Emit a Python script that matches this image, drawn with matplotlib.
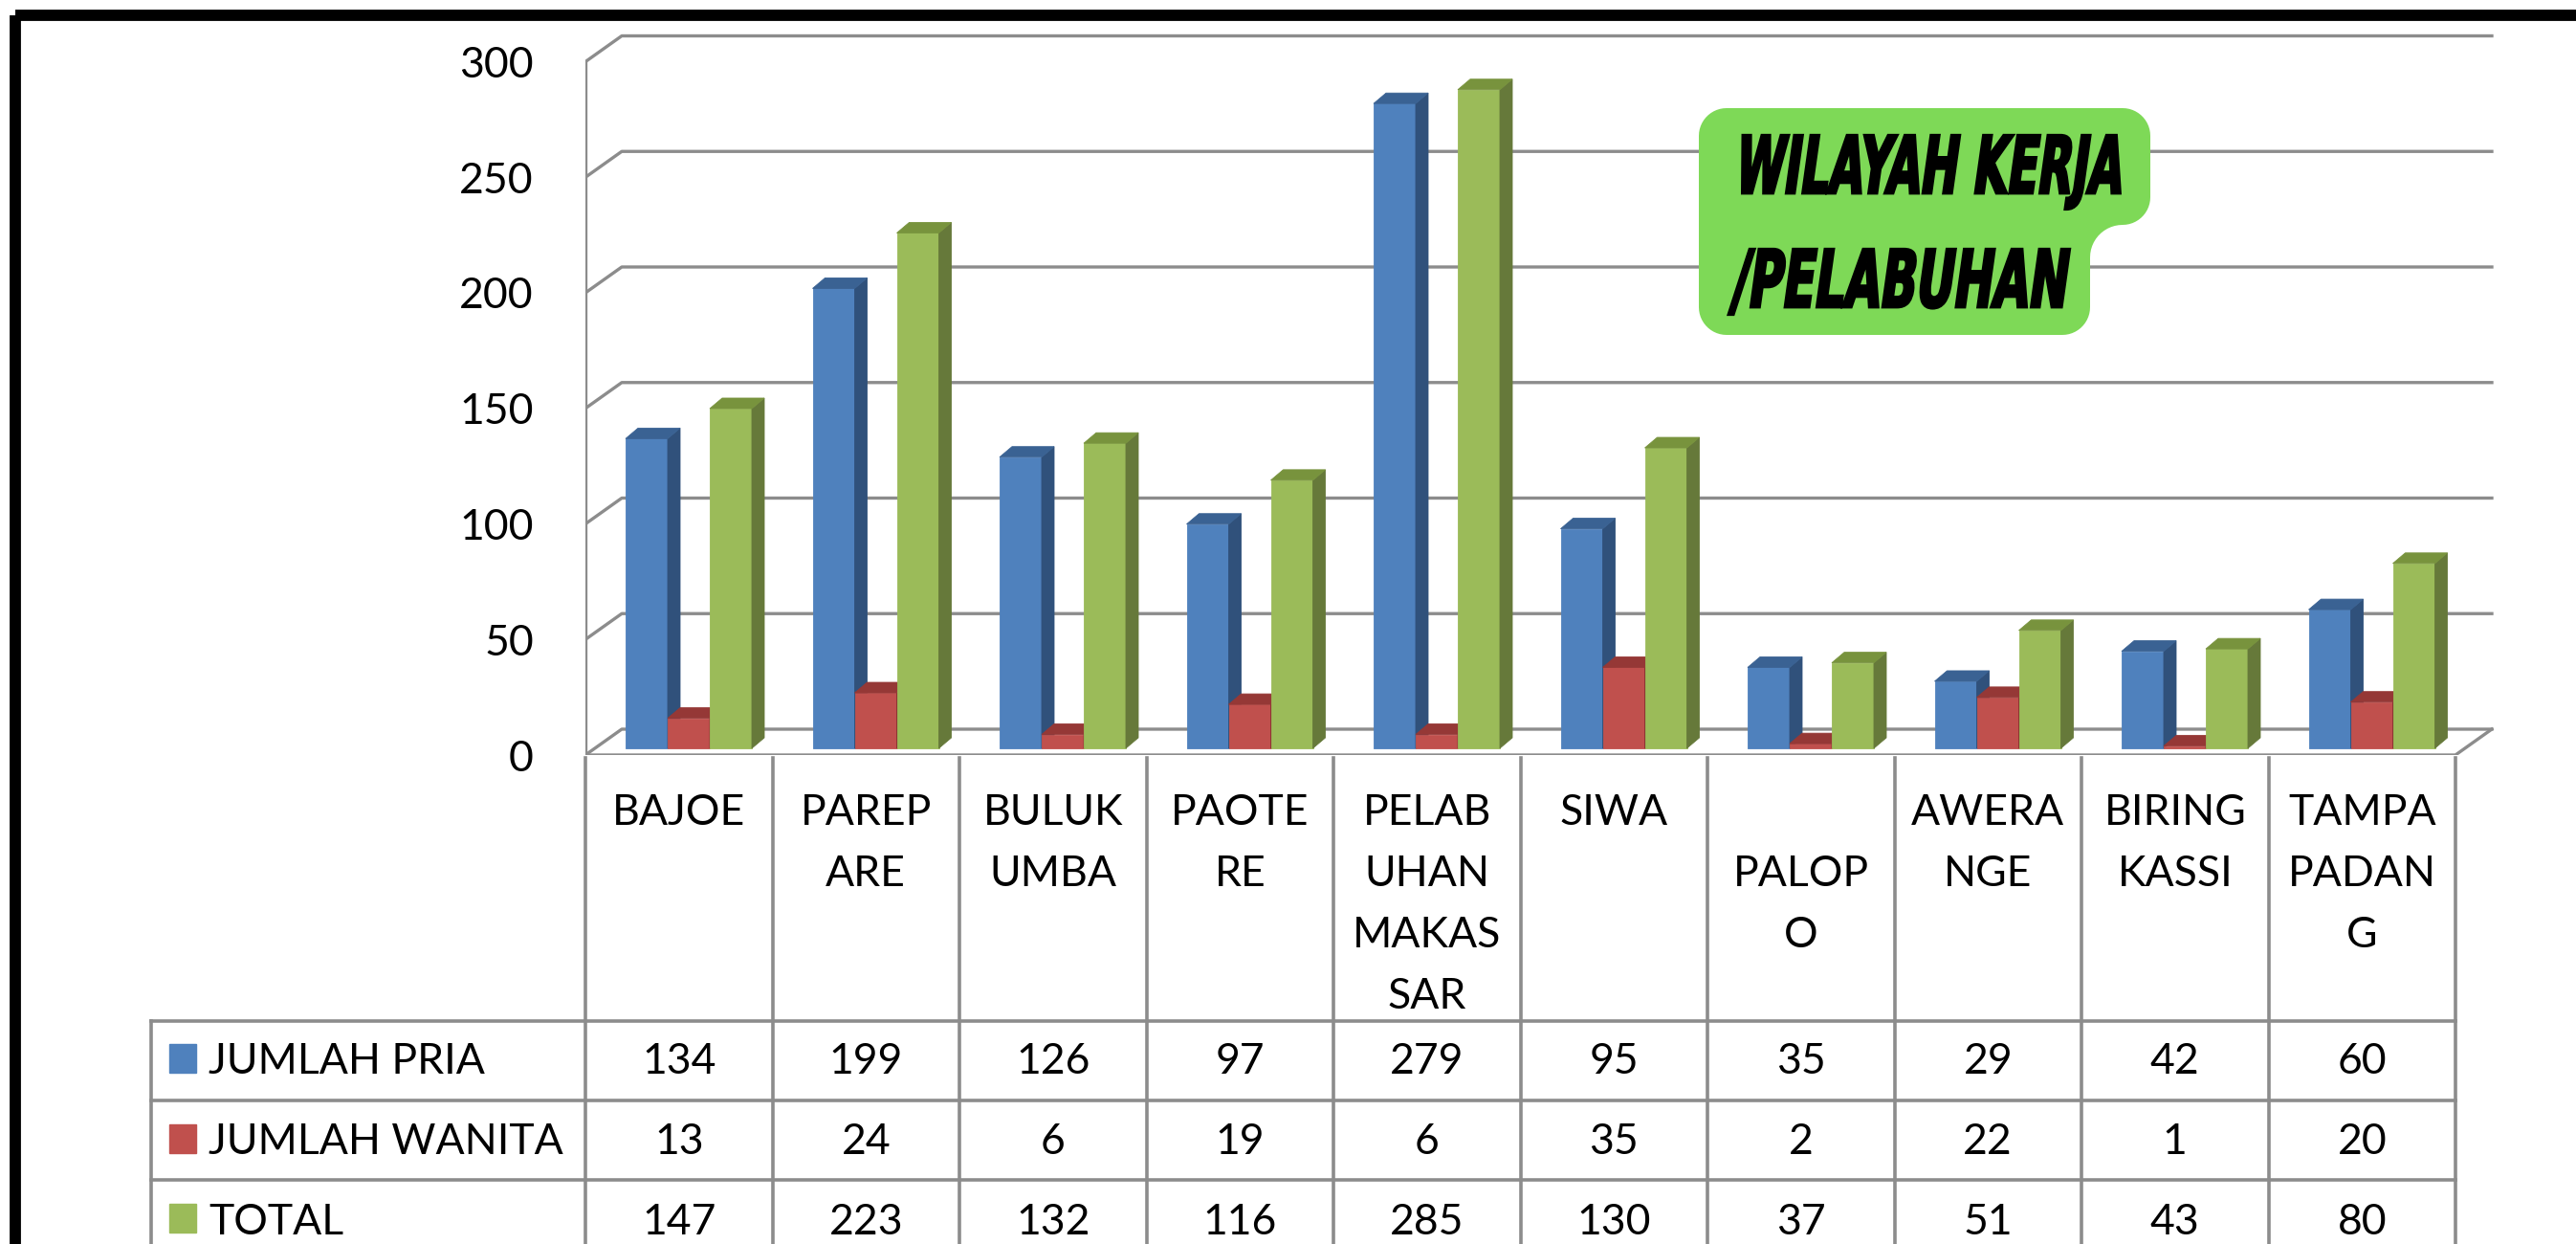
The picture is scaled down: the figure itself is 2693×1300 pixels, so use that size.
import numpy as np
import matplotlib
matplotlib.use("Agg")
import matplotlib.pyplot as plt
from matplotlib.patches import Polygon, Rectangle
from matplotlib.patheffects import AbstractPathEffect
from matplotlib.transforms import Affine2D, blended_transform_factory

# data
categories = ["BAJOE", "PAREP\nARE", "BULUK\nUMBA", "PAOTE\nRE", "PELAB\nUHAN\nMAKAS\nSAR",
              "SIWA", "\nPALOP\nO", "AWERA\nNGE", "BIRING\nKASSI", "TAMPA\nPADAN\nG"]
series_names = ["JUMLAH PRIA", "JUMLAH WANITA", "TOTAL"]
jumlah_pria = [134, 199, 126, 97, 279, 95, 35, 29, 42, 60]
jumlah_wanita = [13, 24, 6, 19, 6, 35, 2, 22, 1, 20]
total = [147, 223, 132, 116, 285, 130, 37, 51, 43, 80]
y_ticks = [0, 50, 100, 150, 200, 250, 300]
title_lines = ["WILAYAH KERJA", "/PELABUHAN"]

# (front, top, side) colours per series, office 2007 style
colors = [("#4F81BD", "#3A6293", "#30517B"),
          ("#C0504D", "#953836", "#8A3331"),
          ("#9BBB59", "#78933D", "#66793A")]
grey = "#8C8C8C"

W, H = 2693, 1300
plt.rcParams['font.family'] = ['Lato', 'DejaVu Sans']


class Stretch(AbstractPathEffect):
    # scale/slant glyphs about their baseline and thicken them (comic style title)
    def __init__(self, sx, sy, slant, stroke=0.0):
        super().__init__()
        self._t = Affine2D().scale(sx, sy).skew_deg(slant, 0)
        self._stroke = stroke

    def draw_path(self, renderer, gc, tpath, affine, rgbFace=None):
        gc0 = renderer.new_gc()
        gc0.copy_properties(gc)
        gc0.set_linewidth(self._stroke)
        gc0.set_foreground(rgbFace)
        gc0.set_joinstyle('miter')
        renderer.draw_path(gc0, tpath, self._t + affine, rgbFace)
        gc0.restore()


fig = plt.figure(figsize=(W / 100, H / 100), dpi=100, facecolor='white')

# main axes: x in category columns, y in values
x0_px, y0_px = 612, 789
col_px, unit_px = 195.5, 2.415
xmax, ymax = 10.3, 320
ax = fig.add_axes([x0_px / W, (H - y0_px) / H, xmax * col_px / W, ymax * unit_px / H])
ax.set_xlim(0, xmax)
ax.set_ylim(0, ymax)
for s in ax.spines.values():
    s.set_visible(False)
ax.patch.set_visible(False)
ax.set_xticks([])
ax.set_yticks(y_ticks)
ax.tick_params(axis='y', length=0, pad=39, labelsize=32)

n = len(categories)
dxw, dyw = 38 / col_px, 27 / unit_px   # depth of the floor / walls

# back wall gridlines + left wall edge + floor
for v in y_ticks:
    ax.plot([0, dxw, n + dxw], [v, v + dyw, v + dyw], color=grey, lw=2.4, zorder=1)
ax.plot([0, 0], [0, y_ticks[-1]], color=grey, lw=2.4, zorder=1)
ax.fill([0, n, n + dxw, dxw], [0, 0, dyw, dyw], color='white', zorder=0)
ax.plot([0, n, n + dxw], [0, 0, dyw], color=grey, lw=2.4, zorder=1)

# 3d columns
bw = 44 / col_px
off = 42 / col_px
base = 7 / unit_px
sdx, sdy = 13 / col_px, 11 / unit_px
idx = np.arange(n)
for j, vals in enumerate([jumlah_pria, jumlah_wanita, total]):
    front, top, side = colors[j]
    left = idx + off + j * bw
    ax.bar(left, vals, width=bw, bottom=base, align='edge', color=front,
           edgecolor=front, lw=0.6, zorder=3 + 2 * j)
    for xl, v in zip(left, vals):
        xr = xl + bw
        yt = base + v
        ax.fill([xr, xr + sdx, xr + sdx, xr], [base, base + sdy, yt + sdy, yt],
                facecolor=side, edgecolor=side, lw=0.6, zorder=4 + 2 * j)
        ax.fill([xl, xl + sdx, xr + sdx, xr], [yt, yt + sdy, yt + sdy, yt],
                facecolor=top, edgecolor=top, lw=0.6, zorder=4 + 2 * j)

# overlay in pixels for table, title and frame
ov = fig.add_axes([0, 0, 1, 1], zorder=5)
ov.set_xlim(0, W)
ov.set_ylim(H, 0)
ov.axis('off')
ov.patch.set_visible(False)
tab = blended_transform_factory(ax.transData, ov.transData)

# data table
leg_x = -2.322
row_lines = [1067, 1150, 1233, 1316]
row_y = [1106, 1190, 1273]
for i in range(n + 1):
    ov.plot([i, i], [792, 1330], transform=tab, color=grey, lw=2.6)
ov.plot([leg_x, leg_x], [1067, 1330], transform=tab, color=grey, lw=2.6)
for y in row_lines:
    ov.plot([leg_x, n], [y, y], transform=tab, color=grey, lw=2.6)

for i, name in enumerate(categories):
    for k, part in enumerate(name.split("\n")):
        ov.text(i + 0.5, 845 + k * 64, part, transform=tab, ha='center',
                va='center_baseline', fontsize=32)

for j, vals in enumerate([jumlah_pria, jumlah_wanita, total]):
    ov.add_patch(Rectangle((-2.225, row_y[j] - 15), 0.143, 30, transform=tab,
                           color=colors[j][0]))
    ov.text(-2.015, row_y[j], series_names[j], transform=tab, ha='left',
            va='center_baseline', fontsize=32)
    for i, v in enumerate(vals):
        ov.text(i + 0.5, row_y[j], str(v), transform=tab, ha='center',
                va='center_baseline', fontsize=32)


# green title tab
def tab_shape(L, T, R1, S, R2, B, r, rc):
    def arc(cx, cy, a0, a1, rad):
        t = np.radians(np.linspace(a0, a1, 14))
        return list(zip(cx + rad * np.cos(t), cy + rad * np.sin(t)))
    pts = arc(R1 - r, T + r, -90, 0, r)
    pts += arc(R1 - r, S - r, 0, 90, r)
    pts += arc(R2 + rc, S + rc, -90, -180, rc)
    pts += arc(R2 - r, B - r, 0, 90, r)
    pts += arc(L + r, B - r, 90, 180, r)
    pts += arc(L + r, T + r, 180, 270, r)
    return pts


ov.add_patch(Polygon(tab_shape(1776, 113, 2248, 235, 2185, 350, 29, 34),
                     closed=True, facecolor='#7ED957', edgecolor='none'))
ov.text(1812, 202, title_lines[0], ha='left', va='baseline', family='DejaVu Sans',
        weight='bold', fontsize=30, path_effects=[Stretch(1.11, 2.0, 8, 2.0)])
ov.text(1808, 321, title_lines[1], ha='left', va='baseline', family='DejaVu Sans',
        weight='bold', fontsize=30, path_effects=[Stretch(1.17, 2.0, 8, 2.0)])

# black frame (right and bottom edges fall outside the picture)
ov.add_patch(Rectangle((16, 16), W, H, fill=False, edgecolor='black', lw=8.5))

fig.savefig('out.png', dpi=100)
